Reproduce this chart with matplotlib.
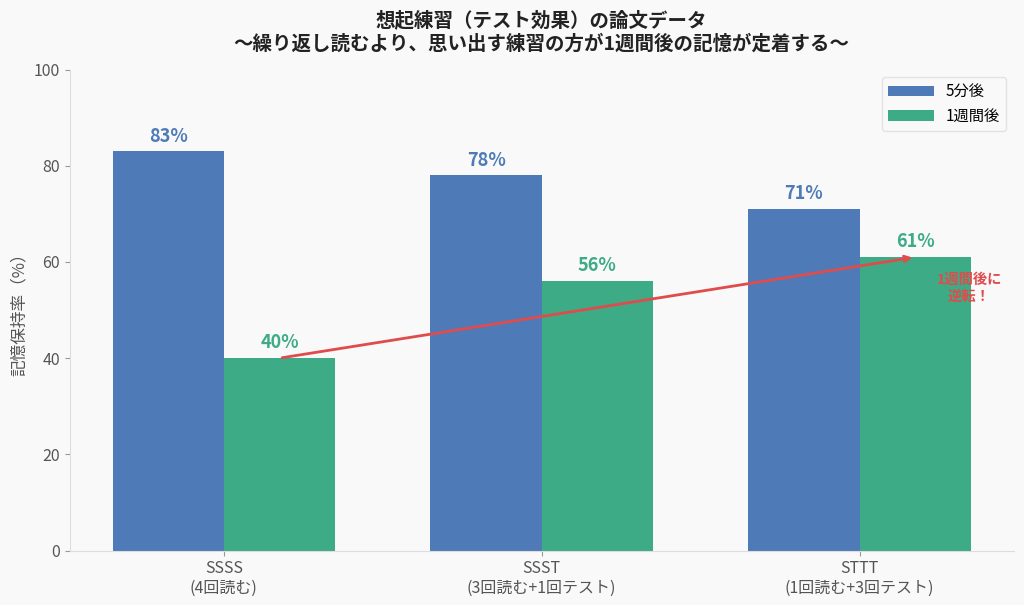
import matplotlib
matplotlib.use('Agg')
import matplotlib.pyplot as plt
import numpy as np

plt.rcParams['font.family'] = ['Noto Sans CJK JP', 'DejaVu Sans']

# data
groups = ['SSSS\n(4回読む)', 'SSST\n(3回読む+1回テスト)', 'STTT\n(1回読む+3回テスト)']
after_5min = [83, 78, 71]
after_1week = [40, 56, 61]
series_names = ['5分後', '1週間後']

blue = '#4e7bb8'
green = '#3dab86'
red = '#e04b4b'
bg = '#f9f9f9'

x = np.arange(len(groups))
w = 0.35

fig, ax = plt.subplots(figsize=(10.24, 6.05), dpi=100)
fig.patch.set_facecolor(bg)
ax.set_facecolor(bg)

b1 = ax.bar(x - w / 2, after_5min, w, color=blue, label=series_names[0])
b2 = ax.bar(x + w / 2, after_1week, w, color=green, label=series_names[1])

for xi, v in zip(x - w / 2, after_5min):
    ax.text(xi, v + 1.2, f'{v}%', ha='center', va='bottom', fontsize=13,
            fontweight='bold', color=blue)
for xi, v in zip(x + w / 2, after_1week):
    ax.text(xi, v + 1.2, f'{v}%', ha='center', va='bottom', fontsize=13,
            fontweight='bold', color=green)

# arrow from first to last 1-week bar
ax.annotate('', xy=(x[-1] + w / 2, after_1week[-1]), xytext=(x[0] + w / 2, after_1week[0]),
            arrowprops=dict(arrowstyle='->', color=red, lw=2))
ax.text(x[-1] + 0.345, 54.5, '1週間後に\n逆転！', ha='center', va='center', fontsize=10.3,
        fontweight='bold', color=red, linespacing=1.2)

ax.set_ylim(0, 100)
ax.set_xticks(x)
ax.set_xticklabels(groups, fontsize=11.5, color='#555555')
ax.tick_params(axis='y', labelsize=11.5, colors='#555555')
ax.tick_params(axis='both', color='#999999')
ax.set_ylabel('記憶保持率（%）', fontsize=12, color='#555555')

for s in ['top', 'right']:
    ax.spines[s].set_visible(False)
for s in ['left', 'bottom']:
    ax.spines[s].set_color('#dddddd')

ax.set_title('想起練習（テスト効果）の論文データ\n〜繰り返し読むより、思い出す練習の方が1週間後の記憶が定着する〜',
             fontsize=14, fontweight='bold', color='#222222', linespacing=1.3, pad=14)

leg = ax.legend(fontsize=11, loc='upper right', frameon=True, handlelength=3)
leg.get_frame().set_edgecolor('#dddddd')
leg.get_frame().set_facecolor(bg)

plt.subplots_adjust(left=0.068, right=0.99, top=0.885, bottom=0.09)
plt.savefig('out.png', dpi=100, facecolor=bg)
